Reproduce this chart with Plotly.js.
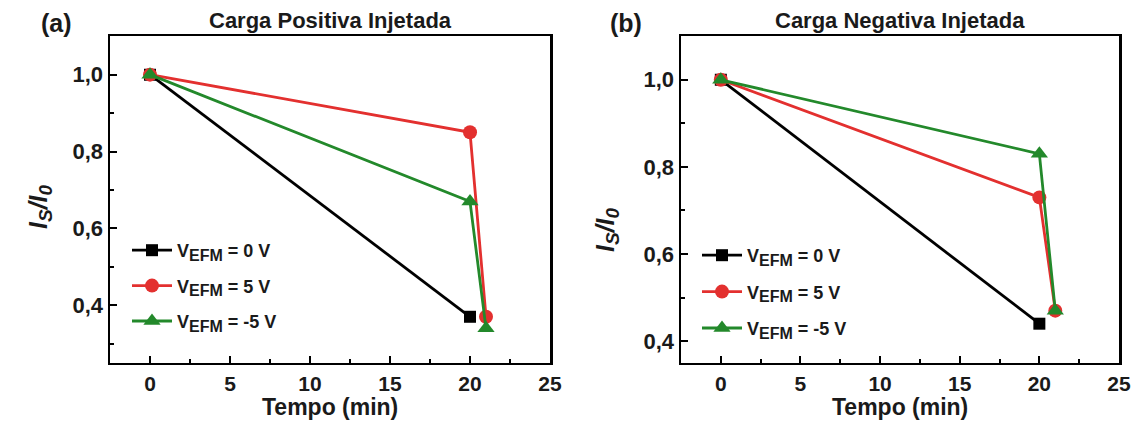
<!DOCTYPE html>
<html>
<head>
<meta charset="utf-8">
<script src="https://cdn.plot.ly/plotly-3.0.1.min.js"></script>
<style>html,body{margin:0;padding:0;background:#fff;}#chart{width:1137px;height:421px;}</style>
</head>
<body>
<div id="chart"></div>
<script>
// ---- data ----
const timeA = [0, 20, 21];
const timeBlack = [0, 20];
const posBlack = [1.0, 0.37];
const posRed = [1.0, 0.85, 0.37];
const posGreen = [1.0, 0.67, 0.34];
const negBlack = [1.0, 0.44];
const negRed = [1.0, 0.73, 0.47];
const negGreen = [1.0, 0.83, 0.47];
const seriesNames = [
  'V<sub><span style="font-size:16px">EFM</span></sub> = 0 V',
  'V<sub><span style="font-size:16px">EFM</span></sub> = 5 V',
  'V<sub><span style="font-size:16px">EFM</span></sub> = -5 V'
];
const panelTitles = ['Carga Positiva Injetada', 'Carga Negativa Injetada'];
const panelLabels = ['(a)', '(b)'];
const yTitle = '<i>I<sub><span style="font-size:19px">S</span></sub>/I<sub><span style="font-size:19px">0</span></sub></i>';
const xTitle = 'Tempo (min)';
const xTicks = [0, 5, 10, 15, 20, 25];
const xMinor = [2.5, 7.5, 12.5, 17.5, 22.5];
const yTicks = [0.4, 0.6, 0.8, 1.0];
const yMinor = [0.3, 0.5, 0.7, 0.9];

const FONT = 'Liberation Sans, Arial, sans-serif';
const TXT = '#1a1a1a';
const colors = ['#000000', '#e3302f', '#23892b'];
const symbols = ['square', 'circle', 'triangle-up'];
const msize = [12, 14, 15];

function mk(x, y, i, xa, ya, leg) {
  return {
    x: x, y: y, type: 'scatter', mode: 'lines+markers',
    name: seriesNames[i], xaxis: xa, yaxis: ya, legend: leg,
    legendgroup: leg + i,
    line: {color: colors[i], width: 2.8},
    marker: {color: colors[i], symbol: symbols[i], size: msize[i]}
  };
}

const traces = [
  mk(timeBlack, posBlack, 0, 'x', 'y', 'legend'),
  mk(timeA, posRed, 1, 'x', 'y', 'legend'),
  mk(timeA, posGreen, 2, 'x', 'y', 'legend'),
  mk(timeBlack, negBlack, 0, 'x2', 'y2', 'legend2'),
  mk(timeA, negRed, 1, 'x2', 'y2', 'legend2'),
  mk(timeA, negGreen, 2, 'x2', 'y2', 'legend2')
];

function xax(dom, anchor) {
  return {
    domain: dom, anchor: anchor, range: [-2.5, 25],
    tickmode: 'array', tickvals: xTicks, ticks: 'inside', ticklen: 7, tickwidth: 2, tickcolor: '#000',
    minor: {tickmode: 'array', tickvals: xMinor, ticks: 'inside', ticklen: 4, tickwidth: 2, tickcolor: '#000', showgrid: false},
    showline: true, linewidth: 2.5, linecolor: '#000', mirror: true,
    showgrid: false, zeroline: false,
    tickfont: {family: FONT, size: 21, color: TXT, weight: 'bold'}
  };
}
function yax(range, anchor) {
  return {
    domain: [0.138, 0.914], anchor: anchor, range: range,
    tickmode: 'array', tickvals: yTicks, tickformat: '.1f',
    ticks: 'inside', ticklen: 7, tickwidth: 2, tickcolor: '#000',
    minor: {tickmode: 'array', tickvals: yMinor, ticks: 'inside', ticklen: 4, tickwidth: 2, tickcolor: '#000', showgrid: false},
    showline: true, linewidth: 2.5, linecolor: '#000', mirror: true,
    showgrid: false, zeroline: false,
    tickfont: {family: FONT, size: 22, color: TXT, weight: 'bold'}
  };
}

const legFont = {family: FONT, size: 18, color: TXT, weight: 'bold'};

function ann(text, x, y, size, extra) {
  return Object.assign({text: text, xref: 'paper', yref: 'paper', x: x/1137, y: 1 - y/421,
    showarrow: false, xanchor: 'center', yanchor: 'middle',
    font: {family: FONT, size: size, color: TXT, weight: 'bold'}}, extra || {});
}

const layout = {
  width: 1137, height: 421,
  margin: {l: 0, r: 0, t: 0, b: 0},
  paper_bgcolor: '#fff', plot_bgcolor: '#fff',
  separators: ',.',
  showlegend: true,
  xaxis: xax([110/1137, 550/1137], 'y'),
  yaxis: yax([0.25, 1.1], 'x'),
  xaxis2: xax([681/1137, 1119/1137], 'y2'),
  yaxis2: yax([0.35, 1.1], 'x2'),
  legend: {x: 127/1137, y: 1 - 232/421, xanchor: 'left', yanchor: 'top', bgcolor: 'rgba(0,0,0,0)', font: legFont, tracegroupgap: 9, itemwidth: 40},
  legend2: {x: 697/1137, y: 1 - 237/421, xanchor: 'left', yanchor: 'top', bgcolor: 'rgba(0,0,0,0)', font: legFont, tracegroupgap: 10, itemwidth: 40},
  annotations: [
    ann(panelTitles[0], 330, 21, 22),
    ann(panelTitles[1], 900, 21, 22),
    ann(panelLabels[0], 56, 23, 25),
    ann(panelLabels[1], 626, 23, 25),
    ann(xTitle, 330, 407, 23),
    ann(xTitle, 900, 407, 23),
    ann(yTitle, 40, 207, 25, {textangle: -90}),
    ann(yTitle, 607, 230, 25, {textangle: -90})
  ]
};

Plotly.newPlot('chart', traces, layout, {displayModeBar: false, staticPlot: true});
</script>
</body>
</html>
